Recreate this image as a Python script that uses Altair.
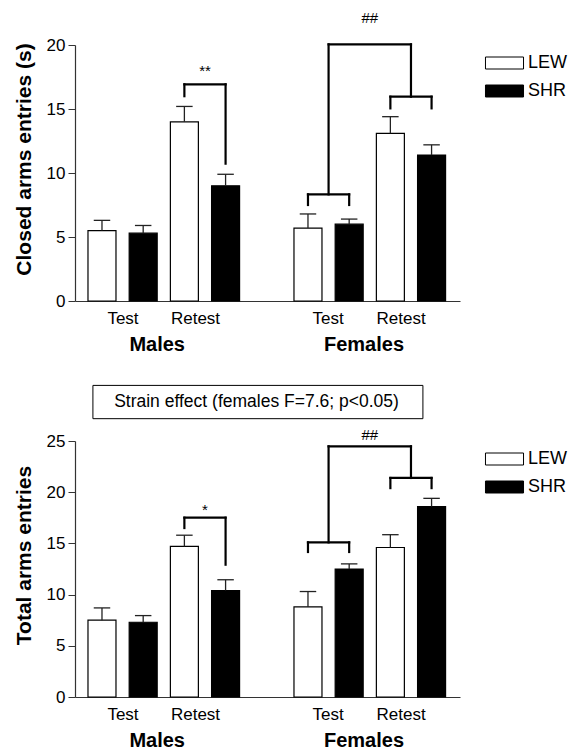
import altair as alt
import pandas as pd

FONT = "Liberation Sans"

sexes = ["Males", "Females"]
sessions = ["Test", "Retest"]
strains = ["LEW", "SHR"]

# order: Males Test LEW, Males Test SHR, Males Retest LEW, Males Retest SHR, Females ...
closed_mean = [5.5, 5.3, 14.0, 9.0, 5.7, 6.0, 13.1, 11.4]
closed_upper = [6.3, 5.9, 15.2, 9.9, 6.8, 6.4, 14.4, 12.2]
total_mean = [7.5, 7.3, 14.7, 10.4, 8.8, 12.5, 14.6, 18.6]
total_upper = [8.7, 7.95, 15.8, 11.45, 10.3, 13.0, 15.85, 19.4]

# significance brackets: (left x, right x, top y, left leg end, right leg end)
closed_brackets = [(2, 3, 16.93, 16.0, 10.73),
                   (5, 6, 8.33, 7.5, 7.5),
                   (7, 8, 15.96, 15.05, 15.05),
                   (5.5, 7.5, 20.05, 8.33, 15.96)]
closed_marks = [(2.5, 18.0, "**"), (6.5, 22.1, "##")]
total_brackets = [(2, 3, 17.51, 16.5, 12.92),
                  (5, 6, 15.1, 14.16, 14.16),
                  (7, 8, 21.39, 20.4, 20.4),
                  (5.5, 7.5, 24.48, 15.1, 21.39)]
total_marks = [(2.5, 18.3, "*"), (6.5, 25.6, "##")]

session_label_pos = [0.51, 2.27, 5.49, 7.26]
sex_label_pos = [1.34, 6.36]

strain_note = "Strain effect (females F=7.6; p<0.05)"

W, H = 385, 256
XDOM = [-0.655, 8.69]


def table(means, uppers):
    rows = []
    i = 0
    for si, sx in enumerate(sexes):
        for ti, ss in enumerate(sessions):
            for ri, st in enumerate(strains):
                rows.append(dict(sex=sx, session=ss, strain=st,
                                 pos=si * 5 + ti * 2 + ri,
                                 mean=means[i], upper=uppers[i]))
                i += 1
    return pd.DataFrame(rows)


def segs(brackets):
    rows = []
    for x1, x2, top, l1, l2 in brackets:
        rows.append(dict(x=x1, x2=x2, y=top, y2=top))
        rows.append(dict(x=x1, x2=x1, y=top, y2=l1))
        rows.append(dict(x=x2, x2=x2, y=top, y2=l2))
    return pd.DataFrame(rows)


def panel(means, uppers, ytitle, ymax, brackets, marks, note=False):
    df = table(means, uppers)
    xs = alt.Scale(domain=XDOM, nice=False, zero=False, padding=0)
    ys = alt.Scale(domain=[0, ymax], nice=False)
    base = alt.Chart(df)
    bars = base.mark_bar(size=28, stroke="black", strokeWidth=1.2).encode(
        x=alt.X("pos:Q", scale=xs,
                axis=alt.Axis(labels=False, ticks=False, grid=False, title=None,
                              domainColor="#333", domainWidth=1.2)),
        y=alt.Y("mean:Q", scale=ys,
                axis=alt.Axis(values=list(range(0, ymax + 1, 5)), tickSize=7,
                              tickColor="#333", domainColor="#333", domainWidth=1.2,
                              labelFontSize=17, labelFont=FONT, labelColor="black",
                              labelPadding=3, grid=False, title=ytitle,
                              titleFontSize=21, titleFont=FONT, titleFontWeight="bold",
                              titleColor="black", titlePadding=12, titleY=114)),
        fill=alt.Fill("strain:N", scale=alt.Scale(domain=strains, range=["white", "black"]),
                      legend=alt.Legend(title=None, orient="none", legendX=420.5, legendY=9,
                                        symbolType="M-3.17,-1H3.17V1H-3.17Z", symbolSize=144,
                                        symbolStrokeColor="black", symbolStrokeWidth=1,
                                        labelFontSize=18, labelFont=FONT, labelColor="black",
                                        rowPadding=10, labelOffset=14.5)),
    )
    err = base.mark_rule(color="#222", strokeWidth=1.3).encode(
        x="pos:Q", y="mean:Q", y2="upper:Q")
    caps = base.transform_calculate(lo="datum.pos - 0.2", hi="datum.pos + 0.2").mark_rule(
        color="#222", strokeWidth=1.3).encode(x="lo:Q", x2="hi:Q", y="upper:Q")
    br = alt.Chart(segs(brackets)).mark_rule(color="black", strokeWidth=2.2,
                                             strokeCap="square").encode(
        x="x:Q", x2="x2:Q", y="y:Q", y2="y2:Q")
    mk = alt.Chart(pd.DataFrame(marks, columns=["x", "y", "t"])).mark_text(
        fontSize=15, font=FONT, color="black", baseline="middle").encode(
        x="x:Q", y="y:Q", text="t:N")
    sess = alt.Chart(pd.DataFrame({"x": session_label_pos, "t": sessions * 2})).mark_text(
        fontSize=17, font=FONT, color="black", baseline="middle").encode(
        x="x:Q", y=alt.value(H + 18), text="t:N")
    sx = alt.Chart(pd.DataFrame({"x": sex_label_pos, "t": sexes})).mark_text(
        fontSize=20, font=FONT, fontWeight="bold", color="black", baseline="middle").encode(
        x="x:Q", y=alt.value(H + 44), text="t:N")
    layers = [bars, err, caps, br, mk, sess, sx]
    if note:
        nd = pd.DataFrame({"x": [-0.22], "x2": [7.79], "y": [30.43], "y2": [27.18],
                           "tx": [3.75], "ty": [28.8], "t": [strain_note]})
        box = alt.Chart(nd).mark_rect(fill="white", stroke="black", strokeWidth=1).encode(
            x="x:Q", x2="x2:Q", y="y:Q", y2="y2:Q")
        txt = alt.Chart(nd).mark_text(fontSize=17.5, font=FONT, color="black",
                                      baseline="middle").encode(x="tx:Q", y="ty:Q", text="t:N")
        layers += [box, txt]
    return alt.layer(*layers).properties(width=W, height=H)


top = panel(closed_mean, closed_upper, "Closed arms entries (s)", 20,
            closed_brackets, closed_marks)
bottom = panel(total_mean, total_upper, "Total arms entries", 25,
               total_brackets, total_marks, note=True)

chart = alt.vconcat(top, bottom, spacing=29).resolve_scale(
    fill="independent").resolve_legend(fill="independent").configure_view(
    stroke=None).properties(padding={"left": 5, "top": 3, "right": 5, "bottom": 0})

chart.save("out.html", embed_options={"renderer": "svg", "actions": False})
